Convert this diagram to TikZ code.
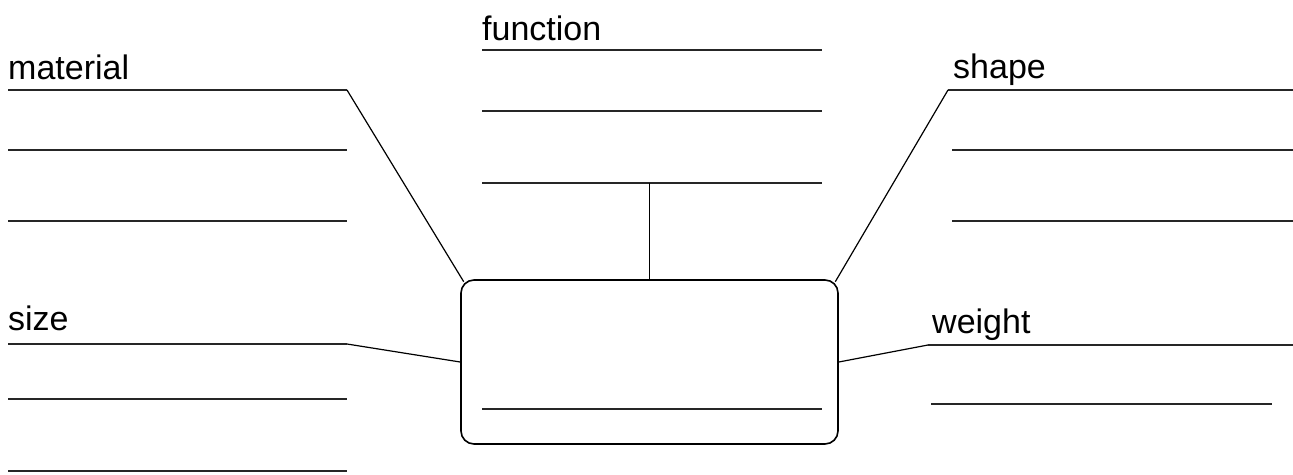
\documentclass[tikz,border=0pt]{standalone}
\usepackage{fontspec}
\setmainfont{Liberation Sans}
\begin{document}
\begin{tikzpicture}[x=1pt,y=-1pt,
  rule/.style={line width=1.6pt, draw=black!85},
  link/.style={line width=1.2pt, draw=black},
  lbl/.style={anchor=base west, inner sep=0pt, font=\fontsize{34}{40}\selectfont},
  card/.style={draw=black, line width=1.6pt, rounded corners=13pt, minimum width=377pt, minimum height=164pt, inner sep=0pt}]
\useasboundingbox (0,0) rectangle (1293,474);

% central card
\node[card] (box) at (649.5,362) {};
\draw[rule] (482,409) -- (822,409);

% labels
\node[lbl] (material) at (8,79) {material};
\node[lbl] (function) at (482,40) {function};
\node[lbl] (shape) at (953,78) {shape};
\node[lbl] (size) at (8,330) {size};
\node[lbl] (weight) at (932,333) {weight};

% writing lines: material
\coordinate (ma) at (347,90);
\draw[rule] (8,90) -- (ma);
\draw[rule] (8,150) -- (347,150);
\draw[rule] (8,221) -- (347,221);
\draw[link] (ma) -- ([shift={(3.5,2.5)}]box.north west);

% function
\coordinate (fu) at (649.5,183);
\draw[rule] (482,50) -- (822,50);
\draw[rule] (482,111) -- (822,111);
\draw[rule] (482,183) -- (822,183);
\draw[link] (fu) -- (box.north);

% shape
\coordinate (sh) at (948,90);
\draw[rule] (sh) -- (1293,90);
\draw[rule] (952,150) -- (1293,150);
\draw[rule] (952,221) -- (1293,221);
\draw[link] (sh) -- ([shift={(-3.5,2.5)}]box.north east);

% size
\coordinate (si) at (347,344);
\draw[rule] (8,344) -- (si);
\draw[rule] (8,399) -- (347,399);
\draw[rule] (8,471) -- (347,471);
\draw[link] (si) -- (box.west);

% weight
\coordinate (we) at (928,345);
\draw[rule] (we) -- (1293,345);
\draw[rule] (931,404) -- (1272,404);
\draw[link] (we) -- (box.east);
\end{tikzpicture}
\end{document}
